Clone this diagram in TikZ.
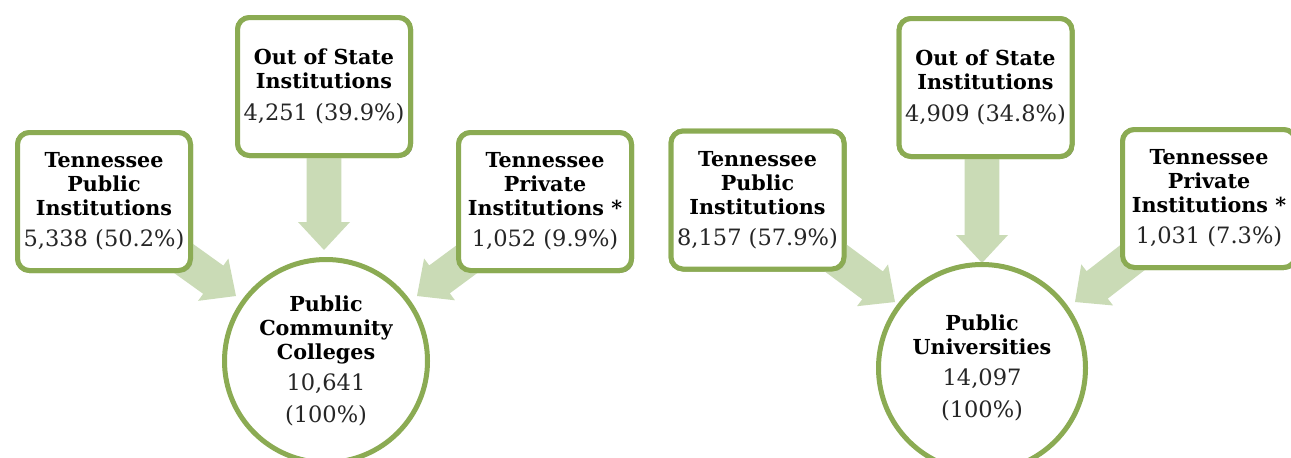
\documentclass[tikz,border=0pt]{standalone}
\usepackage{fontspec}
\setmainfont{DejaVu Serif}
\usetikzlibrary{calc,shadows}
\definecolor{bordergreen}{HTML}{8BAB53}
\definecolor{arrowgreen}{HTML}{CADBB6}
\newcommand\bfnt{\fontsize{15.5pt}{18pt}\selectfont\bfseries}
\newcommand\rgnt{\fontsize{16.9pt}{18pt}\selectfont\mdseries\color{black!85}}
\newcommand\blockarr[2]{%
  \coordinate (#1#2h) at ($(#2)!21pt!(#1)$);
  \fill[arrowfill] ($(#1)!13pt!90:(#2)$) -- ($(#1#2h)!13pt!90:(#2)$) -- ($(#1#2h)!19.5pt!90:(#2)$)
    -- (#2) -- ($(#1#2h)!19.5pt!-90:(#2)$) -- ($(#1#2h)!13pt!-90:(#2)$) -- ($(#1)!13pt!-90:(#2)$) -- cycle;}
\begin{document}
\begin{tikzpicture}[x=0.75pt,y=-0.75pt,
  arrowfill/.style={fill=arrowgreen},
  srcbox/.style={draw=bordergreen, line width=3.75pt, fill=white, rounded corners=9pt,
    minimum width=129.75pt, minimum height=103.5pt, align=center, inner sep=0pt, font=\bfnt,
    drop shadow={shadow xshift=1.5pt, shadow yshift=-1.5pt, opacity=0.3, fill=black!70}},
  dstcirc/.style={draw=bordergreen, line width=3.75pt, fill=white, circle, align=center, inner sep=0pt, font=\bfnt}]
\useasboundingbox (0,0) rectangle (1291,457);
% ---------- left diagram ----------
\node[srcbox] (lpub) at (104,201.5) {Tennessee\\Public\\Institutions\\[5.5pt]\rgnt 5,338 (50.2\%)};
\node[srcbox] (lout) at (324,86.5) {Out of State\\Institutions\\[6pt]\rgnt 4,251 (39.9\%)};
\node[srcbox] (lpri) at (545,201.5) {Tennessee\\Private\\Institutions *\\[5.5pt]\rgnt 1,052 (9.9\%)};
\coordinate (ltipA) at (236,296);
\coordinate (ltipB) at (324,250);
\coordinate (ltipC) at (417,296);
\blockarr{lpub}{ltipA}
\blockarr{lout}{ltipB}
\blockarr{lpri}{ltipC}
\node[srcbox] at (lpub) {Tennessee\\Public\\Institutions\\[5.5pt]\rgnt 5,338 (50.2\%)};
\node[srcbox] at (lout) {Out of State\\Institutions\\[6pt]\rgnt 4,251 (39.9\%)};
\node[srcbox] at (lpri) {Tennessee\\Private\\Institutions *\\[5.5pt]\rgnt 1,052 (9.9\%)};
\node[dstcirc, minimum size=152.25pt] (lcc) at (326,361) {Public\\Community\\Colleges\\[5pt]\rgnt 10,641\\[6pt]\rgnt (100\%)};
% ---------- right diagram ----------
\node[srcbox] (rpub) at (757.5,200) {Tennessee\\Public\\Institutions\\[5.5pt]\rgnt 8,157 (57.9\%)};
\node[srcbox] (rout) at (985.5,87.5) {Out of State\\Institutions\\[6pt]\rgnt 4,909 (34.8\%)};
\node[srcbox] (rpri) at (1209,198.5) {Tennessee\\Private\\Institutions *\\[5.5pt]\rgnt 1,031 (7.3\%)};
\coordinate (rtipA) at (895,302);
\coordinate (rtipB) at (982,263);
\coordinate (rtipC) at (1075,302);
\coordinate (routS) at (rout.center -| rtipB);
\blockarr{rpub}{rtipA}
\blockarr{routS}{rtipB}
\blockarr{rpri}{rtipC}
\node[srcbox] at (rpub) {Tennessee\\Public\\Institutions\\[5.5pt]\rgnt 8,157 (57.9\%)};
\node[srcbox] at (rout) {Out of State\\Institutions\\[6pt]\rgnt 4,909 (34.8\%)};
\node[srcbox] at (rpri) {Tennessee\\Private\\Institutions *\\[5.5pt]\rgnt 1,031 (7.3\%)};
\node[dstcirc, minimum size=155.25pt] (ruc) at (982,368) {Public\\Universities\\[5pt]\rgnt 14,097\\[6pt]\rgnt (100\%)};
\end{tikzpicture}
\end{document}
